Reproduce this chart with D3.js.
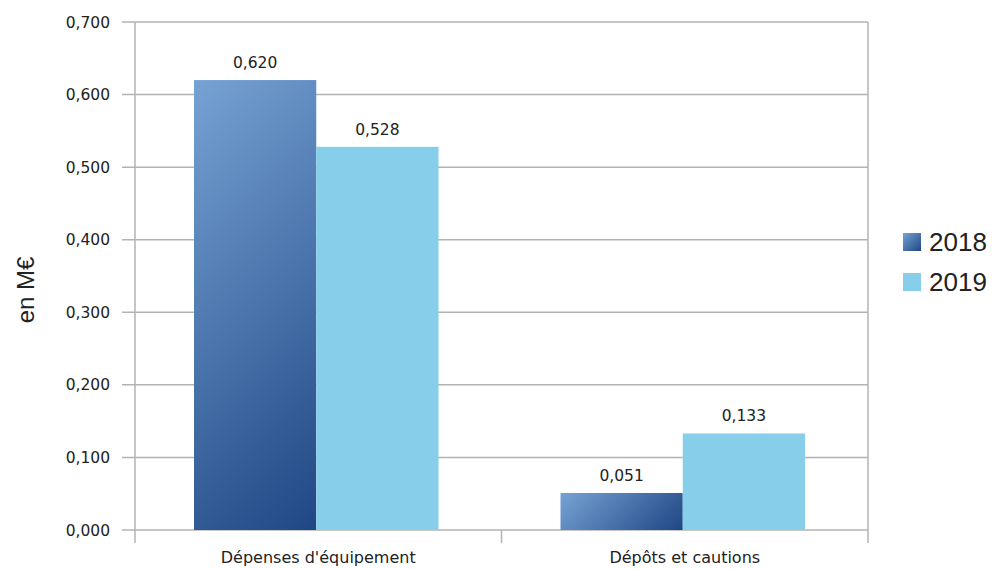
<!DOCTYPE html>
<html>
<head>
<meta charset="utf-8">
<script src="https://cdn.jsdelivr.net/npm/d3@7"></script>
<style>
  html, body { margin: 0; padding: 0; background: #fff; }
  svg { display: block; }
  text { font-family: "DejaVu Sans", sans-serif; fill: #222; }
</style>
</head>
<body>
<svg id="chart" width="995" height="569"></svg>
<script>
const categories = ["Dépenses d'équipement", "Dépôts et cautions"];
const years = ["2018", "2019"];
const values2018 = [0.620, 0.051];
const values2019 = [0.528, 0.133];
const yTicks = [0, 0.1, 0.2, 0.3, 0.4, 0.5, 0.6, 0.7];
const yTitle = "en M€";

const series = [
  { key: years[0], values: values2018 },
  { key: years[1], values: values2019 }
];

const svg = d3.select("#chart");
const plotLeft = 135, plotRight = 868, plotTop = 22, plotBottom = 530;

const x = d3.scaleBand().domain(categories).range([plotLeft, plotRight]).padding(0);
const xi = d3.scaleBand().domain(years)
  .range([59, x.bandwidth() - 63]).padding(0);
const y = d3.scaleLinear().domain([0, 0.7]).range([plotBottom, plotTop]);

const fmt = v => d3.format(".3f")(v).replace(".", ",");

const defs = svg.append("defs");
const solid2019 = "#87ceeb";

// horizontal grid lines with left tick stubs
svg.append("g").selectAll("line").data(yTicks).join("line")
  .attr("x1", plotLeft - 13).attr("x2", plotRight)
  .attr("y1", d => y(d)).attr("y2", d => y(d))
  .attr("stroke", "#b3b3b3").attr("stroke-width", 1.5);

// vertical axis, right border, category separator
const vlines = [plotLeft, plotLeft + x.bandwidth(), plotRight];
svg.append("g").selectAll("line").data(vlines).join("line")
  .attr("x1", d => d).attr("x2", d => d)
  .attr("y1", (d, i) => i === 1 ? plotBottom : plotTop).attr("y2", plotBottom + 13)
  .attr("stroke", "#b3b3b3").attr("stroke-width", 1.5);

// y tick labels
svg.append("g").selectAll("text").data(yTicks).join("text")
  .attr("x", plotLeft - 25).attr("y", d => y(d)).attr("dy", "0.36em")
  .attr("text-anchor", "end").attr("font-size", 15.5)
  .text(fmt);

// bar data
const barData = series.flatMap(s => s.values.map((v, i) => {
  const bx = x(categories[i]) + xi(s.key);
  const by = y(v);
  return { key: s.key, cat: categories[i], v, bx, by, w: xi.bandwidth(), h: y(0) - by, id: `g${s.key}_${i}` };
}));

// 45° diagonal gradient per 2018 bar: light top-left, dark bottom-right
barData.filter(d => d.key === "2018").forEach(d => {
  const span = (d.w + d.h) / 2;
  const g = defs.append("linearGradient").attr("id", d.id)
    .attr("gradientUnits", "userSpaceOnUse")
    .attr("x1", d.bx).attr("y1", d.by)
    .attr("x2", d.bx + span).attr("y2", d.by + span);
  g.append("stop").attr("offset", "0%").attr("stop-color", "#76a2d4");
  g.append("stop").attr("offset", "100%").attr("stop-color", "#1f4784");
});

// bars
svg.append("g").selectAll("rect").data(barData).join("rect")
  .attr("x", d => d.bx)
  .attr("width", d => d.w)
  .attr("y", d => d.by)
  .attr("height", d => d.h)
  .attr("fill", d => d.key === "2018" ? `url(#${d.id})` : solid2019);

// value labels
svg.append("g").selectAll("text").data(barData).join("text")
  .attr("x", d => d.bx + d.w / 2)
  .attr("y", d => d.by - 12)
  .attr("text-anchor", "middle").attr("font-size", 15.5)
  .text(d => fmt(d.v));

// category labels
svg.append("g").selectAll("text").data(categories).join("text")
  .attr("x", d => x(d) + x.bandwidth() / 2)
  .attr("y", 563)
  .attr("text-anchor", "middle").attr("font-size", 16)
  .text(d => d);

// y axis title
svg.append("text")
  .attr("transform", `translate(34,290) rotate(-90)`)
  .attr("text-anchor", "middle").attr("font-size", 24)
  .style("font-family", "'Liberation Sans', sans-serif")
  .text(yTitle);

// legend
const lgGrad = defs.append("linearGradient").attr("id", "lg2018")
  .attr("x1", "0").attr("y1", "0").attr("x2", "1").attr("y2", "1");
lgGrad.append("stop").attr("offset", "0%").attr("stop-color", "#76a2d4");
lgGrad.append("stop").attr("offset", "100%").attr("stop-color", "#1f4784");

const legend = svg.append("g").selectAll("g").data(years).join("g")
  .attr("transform", (d, i) => `translate(903,${233 + i * 40})`);
legend.append("rect").attr("width", 18).attr("height", 18)
  .attr("fill", d => d === "2018" ? "url(#lg2018)" : solid2019);
legend.append("text").attr("x", 26).attr("y", 18)
  .attr("font-size", 26)
  .style("font-family", "'Liberation Sans', sans-serif")
  .text(d => d);
</script>
</body>
</html>
